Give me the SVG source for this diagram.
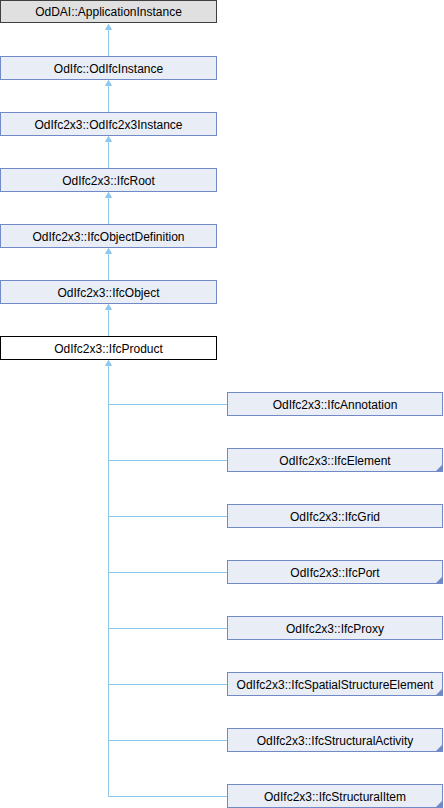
<svg xmlns="http://www.w3.org/2000/svg" width="444" height="808" viewBox="0 0 444 808">
<style>
.box{fill:#E8EDF6;stroke:#7189C7;stroke-width:1}
.top{fill:#E0E0E0;stroke:#404040;stroke-width:1}
.cur{fill:#FFFFFF;stroke:#000000;stroke-width:1}
.t{font-family:"Liberation Sans",Arial,sans-serif;font-size:12px;fill:#000;text-anchor:middle}
.e{stroke:#8CC8EC;stroke-width:1;fill:none}
.ah{fill:#8CC8EC;stroke:#8CC8EC;stroke-width:1}
.c{fill:#7189C7}
</style>
<rect width="444" height="808" fill="#FFFFFF"/>
<g id="connectors">
<path class="e" d="M108.5,30V56M108.5,86V112M108.5,142V168M108.5,198V224M108.5,254V280M108.5,310V336M108.5,366V796.5"/>
<path class="e" d="M108.5,404.5H227M108.5,460.5H227M108.5,516.5H227M108.5,572.5H227M108.5,628.5H227M108.5,684.5H227M108.5,740.5H227M108.5,796.5H227"/>
<polygon class="ah" points="108.5,24.5 105.5,29.5 111.5,29.5"/>
<polygon class="ah" points="108.5,80.5 105.5,85.5 111.5,85.5"/>
<polygon class="ah" points="108.5,136.5 105.5,141.5 111.5,141.5"/>
<polygon class="ah" points="108.5,192.5 105.5,197.5 111.5,197.5"/>
<polygon class="ah" points="108.5,248.5 105.5,253.5 111.5,253.5"/>
<polygon class="ah" points="108.5,304.5 105.5,309.5 111.5,309.5"/>
<polygon class="ah" points="108.5,360.5 105.5,365.5 111.5,365.5"/>
</g>
<g id="n0"><rect class="top" x="0.5" y="0.5" width="216" height="22"/><text class="t" x="108.5" y="16">OdDAI::ApplicationInstance</text></g>
<g id="n1"><rect class="box" x="0.5" y="56.5" width="216" height="23"/><text class="t" x="108.5" y="72.5">OdIfc::OdIfcInstance</text></g>
<g id="n2"><rect class="box" x="0.5" y="112.5" width="216" height="23"/><text class="t" x="108.5" y="128.5">OdIfc2x3::OdIfc2x3Instance</text></g>
<g id="n3"><rect class="box" x="0.5" y="168.5" width="216" height="23"/><text class="t" x="108.5" y="184.5">OdIfc2x3::IfcRoot</text></g>
<g id="n4"><rect class="box" x="0.5" y="224.5" width="216" height="23"/><text class="t" x="108.5" y="240.5">OdIfc2x3::IfcObjectDefinition</text></g>
<g id="n5"><rect class="box" x="0.5" y="280.5" width="216" height="23"/><text class="t" x="108.5" y="296.5">OdIfc2x3::IfcObject</text></g>
<g id="n6"><rect class="cur" x="0.5" y="336.5" width="216" height="23"/><text class="t" x="108.5" y="352.5">OdIfc2x3::IfcProduct</text></g>
<g id="n7"><rect class="box" x="227.5" y="392.5" width="215" height="23"/><text class="t" x="335" y="408.5">OdIfc2x3::IfcAnnotation</text></g>
<g id="n8"><rect class="box" x="227.5" y="448.5" width="215" height="23"/><polygon class="c" points="443,464 443,472 435,472"/><text class="t" x="335" y="464.5">OdIfc2x3::IfcElement</text></g>
<g id="n9"><rect class="box" x="227.5" y="504.5" width="215" height="23"/><text class="t" x="335" y="520.5">OdIfc2x3::IfcGrid</text></g>
<g id="n10"><rect class="box" x="227.5" y="560.5" width="215" height="23"/><polygon class="c" points="443,576 443,584 435,584"/><text class="t" x="335" y="576.5">OdIfc2x3::IfcPort</text></g>
<g id="n11"><rect class="box" x="227.5" y="616.5" width="215" height="23"/><text class="t" x="335" y="632.5">OdIfc2x3::IfcProxy</text></g>
<g id="n12"><rect class="box" x="227.5" y="672.5" width="215" height="23"/><polygon class="c" points="443,688 443,696 435,696"/><text class="t" x="335" y="688.5">OdIfc2x3::IfcSpatialStructureElement</text></g>
<g id="n13"><rect class="box" x="227.5" y="728.5" width="215" height="23"/><polygon class="c" points="443,744 443,752 435,752"/><text class="t" x="335" y="744.5">OdIfc2x3::IfcStructuralActivity</text></g>
<g id="n14"><rect class="box" x="227.5" y="784.5" width="215" height="23"/><polygon class="c" points="443,800 443,808 435,808"/><text class="t" x="335" y="800.5">OdIfc2x3::IfcStructuralItem</text></g>
</svg>
